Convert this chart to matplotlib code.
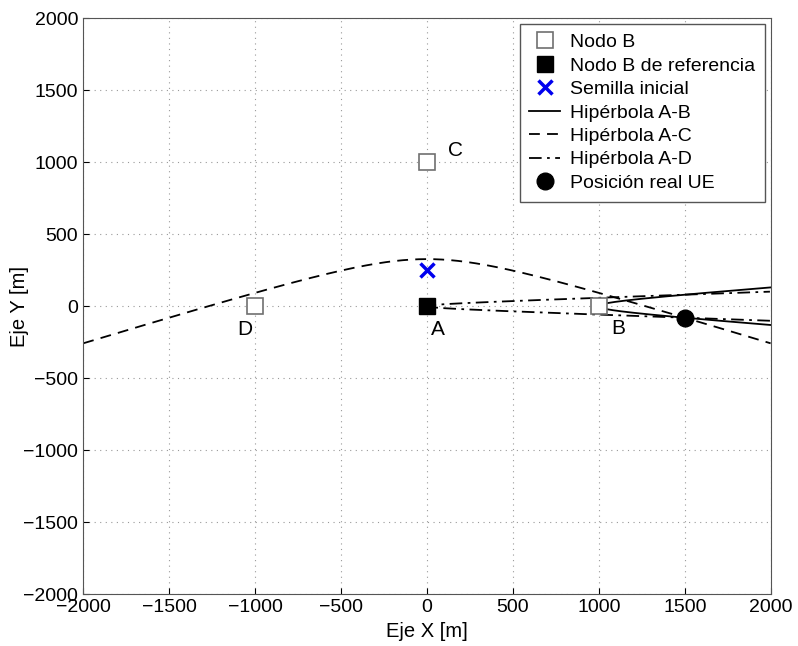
import numpy as np
import matplotlib.pyplot as plt

plt.rcParams['font.family'] = ['Liberation Sans', 'DejaVu Sans']

# posiciones de los nodos B [m]
node_names = ['A', 'B', 'C', 'D']
node_x = [0, 1000, 0, -1000]
node_y = [0, 0, 1000, 0]
label_dx = [65, 115, 165, -58]
label_dy = [-165, -155, 80, -165]

seed_x, seed_y = [0], [250]
ue_x, ue_y = [1500], [-80]


def dist(px, py, qx, qy):
    return np.hypot(px - qx, py - qy)


def hyperbola(f1, f2, ue, t):
    # rama de puntos con |P-f1| - |P-f2| igual que para la UE
    d = dist(ue[0], ue[1], f1[0], f1[1]) - dist(ue[0], ue[1], f2[0], f2[1])
    cx, cy = (f1[0] + f2[0]) / 2, (f1[1] + f2[1]) / 2
    c = dist(f1[0], f1[1], f2[0], f2[1]) / 2
    a = abs(d) / 2
    b = np.sqrt(c**2 - a**2)
    ux, uy = (f2[0] - f1[0]) / (2 * c), (f2[1] - f1[1]) / (2 * c)
    s = np.sign(d)
    u = s * a * np.cosh(t)
    v = b * np.sinh(t)
    return cx + u * ux - v * uy, cy + u * uy + v * ux


A = (node_x[0], node_y[0])
ue = (ue_x[0], ue_y[0])
t = np.linspace(-6, 6, 4000)

fig, ax = plt.subplots(figsize=(7.98, 6.46), dpi=100)
fig.subplots_adjust(left=0.104, right=0.966, top=0.972, bottom=0.08)

ax.plot(node_x[1:], node_y[1:], 's', ms=11, mfc='white', mec='#707070',
        mew=1.2, ls='none', label='Nodo B', zorder=3)
ax.plot(node_x[:1], node_y[:1], 's', ms=12, color='black', ls='none',
        label='Nodo B de referencia', zorder=3)
ax.plot(seed_x, seed_y, 'x', ms=10, mew=2.5, color='#0000ee', ls='none',
        label='Semilla inicial', zorder=3)

styles = [('-', 'Hipérbola A-B'), ((0, (6, 4)), 'Hipérbola A-C'),
          ((0, (7, 3, 1.5, 3)), 'Hipérbola A-D')]
for i, (ls, lab) in enumerate(styles):
    other = (node_x[i + 1], node_y[i + 1])
    hx, hy = hyperbola(other, A, ue, t)
    keep = (hx >= -2000) & (hx <= 2000) & (hy >= -2000) & (hy <= 2000)
    ax.plot(hx[keep], hy[keep], color='black', lw=1.3, ls=ls, label=lab)

ax.plot(ue_x, ue_y, 'o', ms=12, color='black', ls='none',
        label='Posición real UE', zorder=4)

for n, x, y, dx, dy in zip(node_names, node_x, node_y, label_dx, label_dy):
    ax.text(x + dx, y + dy, n, fontsize=15, ha='center', va='center')

ax.set_xlim(-2000, 2000)
ax.set_ylim(-2000, 2000)
ax.set_xticks(np.arange(-2000, 2001, 500))
ax.set_yticks(np.arange(-2000, 2001, 500))
ax.tick_params(direction='in', labelsize=14, length=4)
ax.grid(True, ls=(0, (1, 4)), color='#999999', lw=0.8)
for sp in ax.spines.values():
    sp.set_color('#555555')
ax.set_xlabel('Eje X [m]', fontsize=14.5)
ax.set_ylabel('Eje Y [m]', fontsize=14.5)
ax.xaxis.set_label_coords(0.5, -0.0486)
ax.yaxis.set_label_coords(-0.0785, 0.5)

leg = ax.legend(loc='upper right', fontsize=14, fancybox=False,
                framealpha=1, edgecolor='#555555', handlelength=1.6,
                borderpad=0.5, labelspacing=0.3, handletextpad=0.5,
                borderaxespad=0.3)
leg.get_frame().set_linewidth(1.0)

plt.savefig('out.png', dpi=100)
